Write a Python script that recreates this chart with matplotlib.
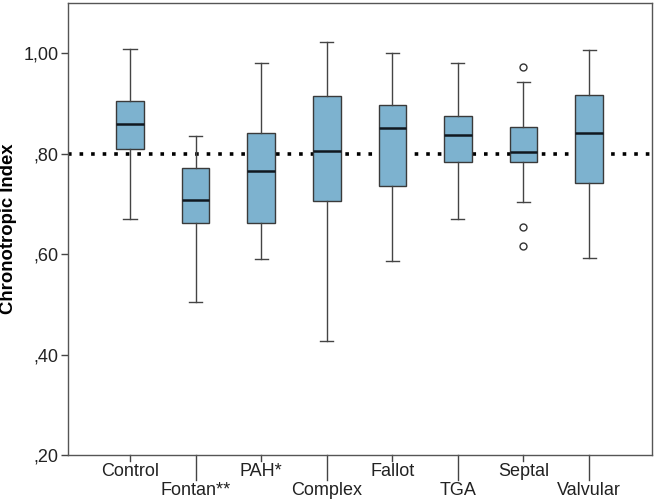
import matplotlib
matplotlib.use("Agg")
import matplotlib.pyplot as plt
from matplotlib.ticker import FixedLocator, FuncFormatter

plt.rcParams['font.family'] = ['Liberation Sans', 'DejaVu Sans']

categories = ["Control", "Fontan**", "PAH*", "Complex", "Fallot", "TGA", "Septal", "Valvular"]
whisk_low = [0.670, 0.504, 0.591, 0.427, 0.586, 0.669, 0.703, 0.593]
q1 = [0.810, 0.662, 0.662, 0.705, 0.735, 0.784, 0.784, 0.741]
median = [0.859, 0.708, 0.766, 0.806, 0.852, 0.838, 0.803, 0.842]
q3 = [0.904, 0.772, 0.841, 0.914, 0.896, 0.876, 0.854, 0.917]
whisk_high = [1.009, 0.835, 0.981, 1.023, 1.000, 0.981, 0.942, 1.007]
outliers = [[], [], [], [], [], [], [0.972, 0.654, 0.617], []]
reference_value = 0.80
yticks = [0.20, 0.40, 0.60, 0.80, 1.00]

stats = []
for i, c in enumerate(categories):
    stats.append(dict(label=c, whislo=whisk_low[i], q1=q1[i], med=median[i],
                      q3=q3[i], whishi=whisk_high[i], fliers=outliers[i]))

fig = plt.figure(figsize=(6.54, 5.03), dpi=100)
ax = fig.add_axes([0.104, 0.0954, 0.893, 0.8986])

positions = list(range(len(categories)))
ax.axhline(reference_value, color='black', linestyle=(0, (1, 2.2)), linewidth=2.6, zorder=1,
           dash_capstyle='butt')
ax.bxp(stats, positions=positions, widths=0.42, patch_artist=True, showfliers=True,
       boxprops=dict(facecolor='#7db2cf', edgecolor='#3a3a3a', linewidth=1.0),
       medianprops=dict(color='#101820', linewidth=1.8),
       whiskerprops=dict(color='#444444', linewidth=1.0),
       capprops=dict(color='#444444', linewidth=1.0),
       capwidths=0.2,
       flierprops=dict(marker='o', markerfacecolor='white', markeredgecolor='#333333',
                       markersize=5, markeredgewidth=1.0),
       zorder=2)

ax.set_xlim(-0.945, 7.96)
ax.set_ylim(0.20, 1.10)
ax.yaxis.set_major_locator(FixedLocator(yticks))
ax.yaxis.set_major_formatter(FuncFormatter(lambda v, p: ("%.2f" % v).replace("0.", ",").replace("1.", "1,")))
ax.set_xticks(positions)
ax.set_xticklabels([])
for i, c in enumerate(categories):
    low = (i % 2 == 1)
    ax.annotate(c, xy=(i, 0), xycoords=('data', 'axes fraction'),
                xytext=(0, -25.2 if low else -12.2), textcoords='offset points',
                ha='center', va='center', fontsize=13, color='#222222')
# tick marks: short for upper labels, long for lower labels
ax.tick_params(axis='x', length=0)
for i in range(len(categories)):
    L = 25 if i % 2 == 1 else 6
    ax.plot([i, i], [0, -L / 452.0], transform=ax.get_xaxis_transform(), color='#444444',
            linewidth=1.0, clip_on=False)

ax.tick_params(axis='y', length=5, width=1.0, color='#444444', labelsize=13, labelcolor='#222222', pad=2)
for s in ax.spines.values():
    s.set_color('#555555')
    s.set_linewidth(1.0)
ax.set_ylabel("Chronotropic Index", fontsize=13.3, fontweight='bold')
ax.yaxis.set_label_coords(-0.087, 0.5)

fig.savefig("out.png", dpi=100)
